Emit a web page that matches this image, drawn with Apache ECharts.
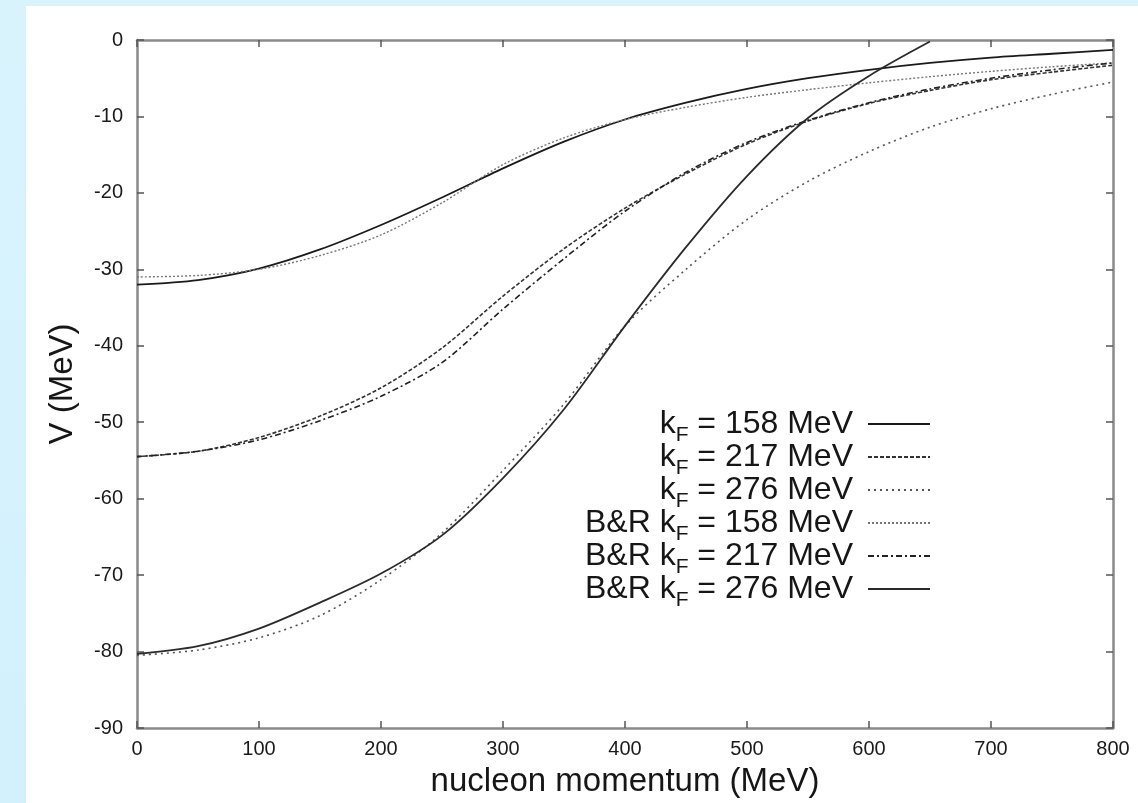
<!DOCTYPE html>
<html>
<head>
<meta charset="utf-8">
<script src="https://cdn.jsdelivr.net/npm/echarts@6/dist/echarts.min.js"></script>
<style>
  html, body { margin: 0; padding: 0; width: 1138px; height: 803px; overflow: hidden;
    background: linear-gradient(180deg, #d9f3fd 0%, #d2f1fd 100%); }
  #chart { position: absolute; left: 26px; top: 6px; width: 1112px; height: 797px; background: #ffffff; }
</style>
</head>
<body>
<div id="chart"></div>
<script>
// nucleon momentum (MeV) sample points
const momentum = [0, 50, 100, 150, 200, 250, 300, 350, 400, 450, 500, 550, 600, 650, 700, 750, 800];

// V (MeV)
const kF158 = [-32.0, -31.4, -29.9, -27.4, -24.2, -20.6, -16.8, -13.3, -10.4, -8.2, -6.4, -5.0, -3.9, -3.0, -2.3, -1.8, -1.3];
const kF217 = [-54.5, -53.8, -52.0, -49.2, -45.5, -40.3, -33.5, -27.3, -22.0, -17.5, -13.6, -10.6, -8.3, -6.6, -5.2, -4.2, -3.3];
const kF276 = [-80.5, -79.8, -78.2, -75.3, -70.6, -64.5, -56.3, -47.6, -37.4, -30.0, -23.5, -18.5, -14.6, -11.4, -9.0, -7.1, -5.5];
const br158 = [-31.0, -30.8, -30.0, -28.2, -25.5, -21.3, -16.3, -12.8, -10.4, -8.8, -7.5, -6.5, -5.6, -4.8, -4.1, -3.5, -3.0];
const br217 = [-54.5, -53.8, -52.3, -49.8, -46.6, -42.2, -35.2, -28.6, -22.4, -17.3, -13.4, -10.5, -8.2, -6.4, -5.0, -3.9, -3.0];
const br276 = [-80.3, -79.3, -77.0, -73.6, -69.8, -64.8, -57.3, -48.3, -37.4, -27.1, -17.8, -10.2, -4.7, -0.2, null, null, null];

const seriesNames = ['kF = 158 MeV', 'kF = 217 MeV', 'kF = 276 MeV', 'B&R kF = 158 MeV', 'B&R kF = 217 MeV', 'B&R kF = 276 MeV'];
const xTicks = [0, 100, 200, 300, 400, 500, 600, 700, 800];
const yTicks = [-90, -80, -70, -60, -50, -40, -30, -20, -10, 0];

const FONT = '"Liberation Sans", Arial, Helvetica, sans-serif';

function pairs(vals) { return momentum.map((x, i) => [x, vals[i]]); }

const styles = [
  { color: '#1a1a1a', width: 1.8, type: 'solid' },
  { color: '#333333', width: 1.6, type: [4, 2] },
  { color: '#555555', width: 1.6, type: [2, 4] },
  { color: '#777777', width: 1.4, type: [2, 2] },
  { color: '#222222', width: 1.6, type: [6, 3, 2, 3] },
  { color: '#2a2a2a', width: 1.8, type: 'solid' }
];
const dataSets = [kF158, kF217, kF276, br158, br217, br276];

const chart = echarts.init(document.getElementById('chart'), null, { renderer: 'canvas' });

const axisCommon = {
  type: 'value',
  axisLine: { show: true, onZero: false, lineStyle: { color: '#8a8a8a', width: 2.5 } },
  axisTick: { show: true, inside: true, length: 7, lineStyle: { color: '#555', width: 1.5 } },
  splitLine: { show: false }
};

chart.setOption({
  animation: false,
  backgroundColor: '#ffffff',
  grid: { left: 111, right: 25, top: 34, bottom: 75, containLabel: false },
  legend: {
    orient: 'vertical',
    right: 207,
    top: 402,
    padding: 0,
    align: 'right',
    itemWidth: 62,
    itemHeight: 10,
    itemGap: -5,
    data: seriesNames,
    itemStyle: { color: 'rgba(0,0,0,0)', borderColor: 'rgba(0,0,0,0)', borderWidth: 0 },
    formatter: function (name) {
      const pre = name.indexOf('B&R') === 0 ? 'B&R ' : '';
      const rest = name.replace('B&R ', '').replace('kF', '');
      return '{a|' + pre + 'k}{b|F}{a|' + rest + '}';
    },
    textStyle: {
      color: '#161616',
      fontFamily: FONT,
      padding: [0, 10, 0, 0],
      rich: {
        a: { fontSize: 32, lineHeight: 44, fontFamily: FONT, color: '#161616' },
        b: { fontSize: 21, lineHeight: 21, verticalAlign: 'bottom', fontFamily: FONT, color: '#161616' }
      }
    }
  },
  xAxis: [
    Object.assign({}, axisCommon, {
      min: 0, max: 800, interval: 100, position: 'bottom',
      name: 'nucleon momentum (MeV)', nameLocation: 'middle', nameGap: 37,
      nameTextStyle: { fontSize: 33, fontFamily: FONT, color: '#161616' },
      axisLabel: { fontSize: 20, fontFamily: FONT, color: '#1a1a1a', margin: 11,
        formatter: v => xTicks.indexOf(v) >= 0 ? String(v) : '' }
    }),
    Object.assign({}, axisCommon, {
      min: 0, max: 800, interval: 100, position: 'top',
      axisLabel: { show: false }
    })
  ],
  yAxis: [
    Object.assign({}, axisCommon, {
      min: -90, max: 0, interval: 10, position: 'left',
      name: 'V (MeV)', nameLocation: 'middle', nameGap: 58,
      nameTextStyle: { fontSize: 33, fontFamily: FONT, color: '#161616' },
      axisLabel: { fontSize: 20, fontFamily: FONT, color: '#1a1a1a', margin: 14,
        formatter: v => yTicks.indexOf(v) >= 0 ? String(v) : '' }
    }),
    Object.assign({}, axisCommon, {
      min: -90, max: 0, interval: 10, position: 'right',
      axisLabel: { show: false }
    })
  ],
  series: seriesNames.map((name, i) => ({
    name: name,
    type: 'line',
    xAxisIndex: 0,
    yAxisIndex: 0,
    data: pairs(dataSets[i]),
    smooth: 0.3,
    showSymbol: false,
    symbol: 'none',
    connectNulls: false,
    clip: true,
    color: styles[i].color,
    lineStyle: { color: styles[i].color, width: styles[i].width, type: styles[i].type },
    z: 2 + i
  }))
});
</script>
</body>
</html>
